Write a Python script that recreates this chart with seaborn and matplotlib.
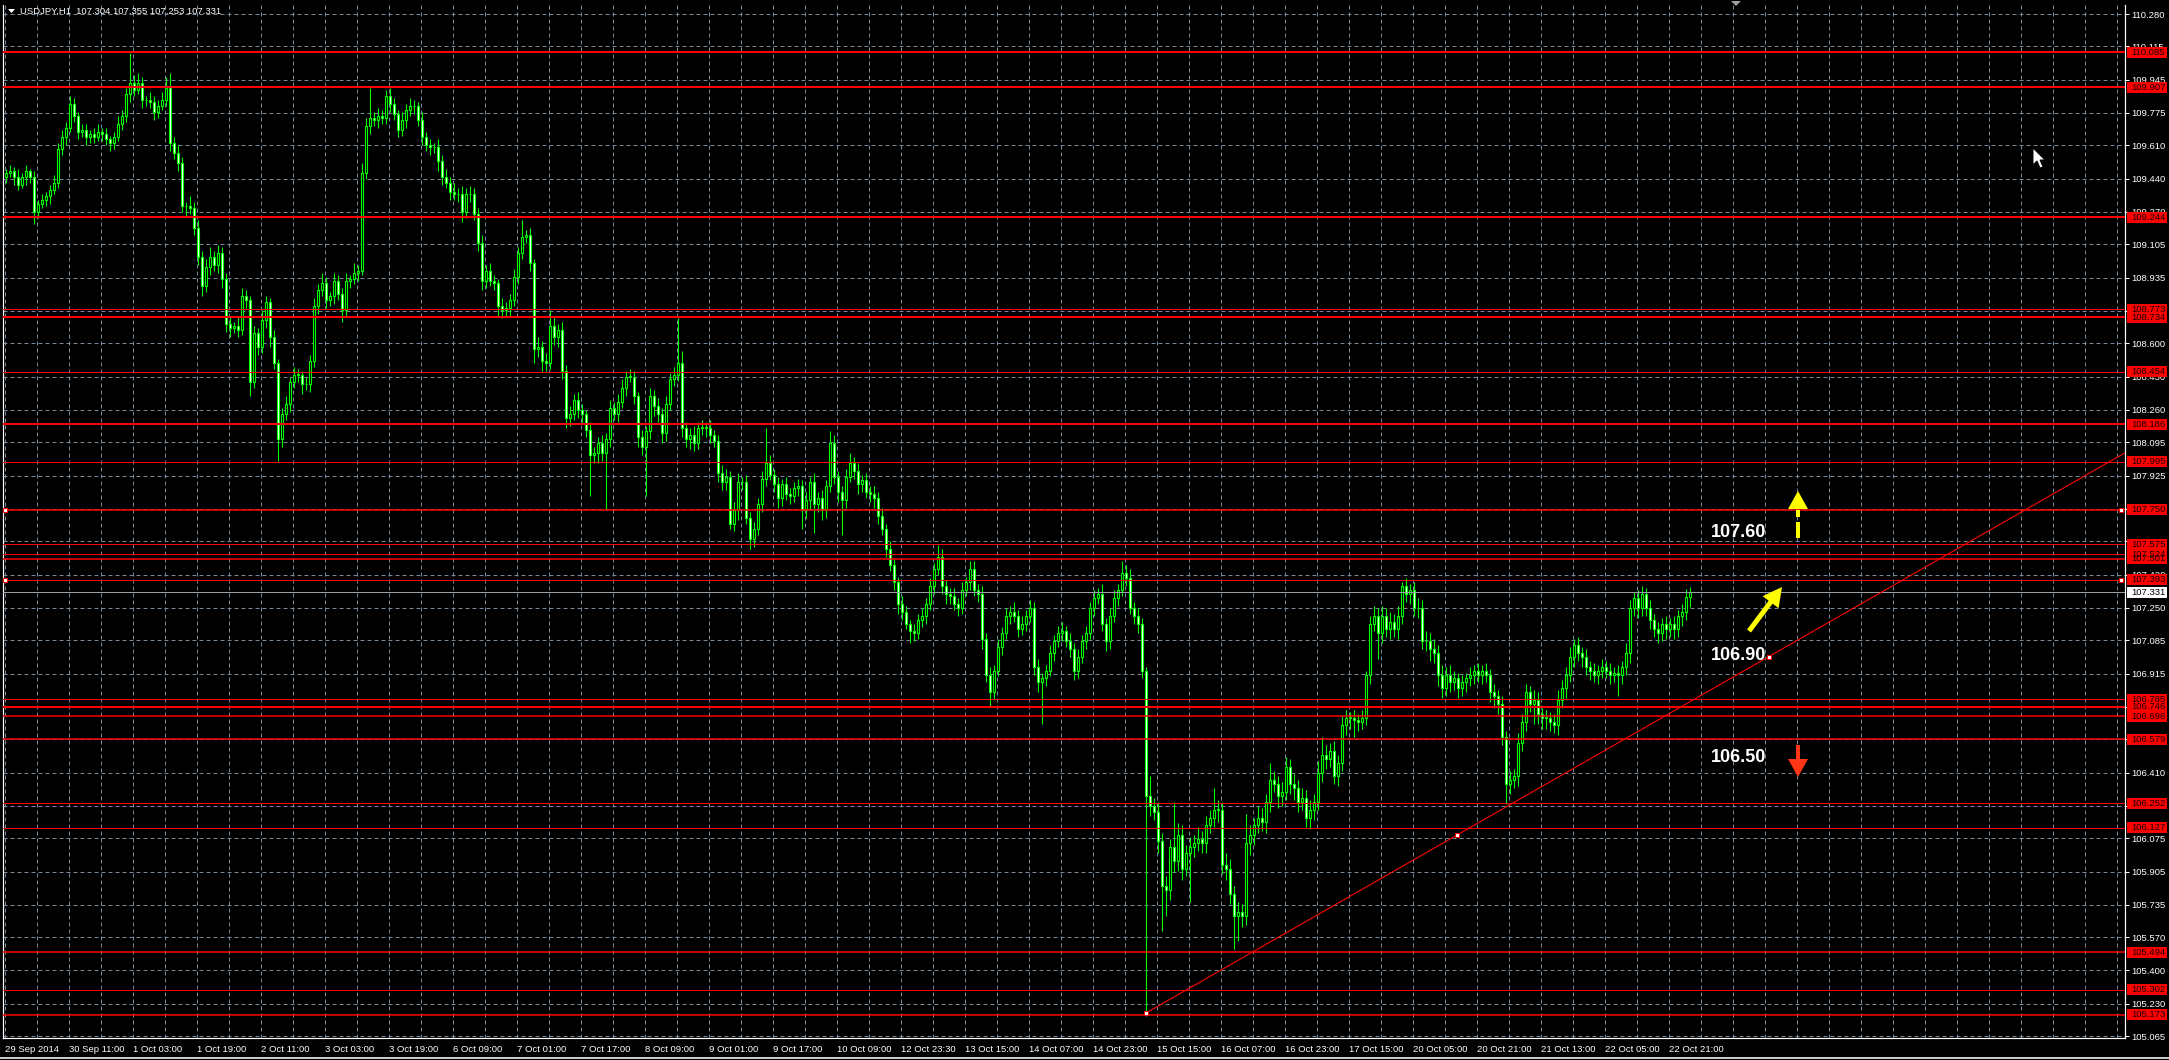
import numpy as np
import pandas as pd
import matplotlib
matplotlib.use("Agg")
import matplotlib.pyplot as plt
import matplotlib.transforms as mtransforms
from matplotlib.patches import Rectangle, Polygon
from matplotlib.lines import Line2D
import seaborn as sns

# ---------------- data ----------------
SYMBOL = "USDJPY,H1"
HEADER_OHLC = [107.304, 107.355, 107.253, 107.331]
FIRST_OPEN = 109.45

CLOSE = [
    109.47,109.48,109.45,109.41,109.45,109.48,109.45,109.27,109.31,109.33,
    109.35,109.38,109.42,109.59,109.65,109.70,109.82,109.76,109.68,109.69,
    109.65,109.67,109.65,109.68,109.67,109.64,109.62,109.65,109.72,109.76,
    109.87,109.93,109.89,109.93,109.84,109.84,109.83,109.78,109.81,109.84,
    109.90,109.62,109.57,109.52,109.30,109.30,109.29,109.19,109.04,108.89,
    108.99,109.04,109.00,109.06,108.93,108.70,108.68,108.69,108.67,108.84,
    108.82,108.40,108.65,108.58,108.72,108.81,108.63,108.50,108.11,108.24,
    108.29,108.40,108.44,108.44,108.39,108.39,108.51,108.79,108.87,108.91,
    108.82,108.84,108.92,108.85,108.77,108.92,108.93,108.96,108.97,109.47,
    109.71,109.75,109.74,109.76,109.75,109.86,109.82,109.77,109.69,109.74,
    109.79,109.81,109.81,109.74,109.65,109.61,109.60,109.60,109.53,109.45,
    109.42,109.37,109.36,109.36,109.27,109.36,109.36,109.26,109.11,108.92,
    108.97,108.92,108.91,108.79,108.77,108.78,108.82,108.94,109.06,109.14,
    109.15,109.01,108.57,108.58,108.51,108.50,108.69,108.63,108.67,108.46,
    108.22,108.24,108.31,108.26,108.24,108.16,108.03,108.04,108.09,108.04,
    108.11,108.27,108.24,108.30,108.37,108.43,108.43,108.33,108.12,108.07,
    108.15,108.33,108.28,108.24,108.14,108.29,108.42,108.44,108.50,108.17,
    108.11,108.13,108.09,108.17,108.17,108.17,108.13,108.10,107.94,107.89,
    107.92,107.68,107.75,107.89,107.89,107.71,107.60,107.65,107.78,107.91,
    107.99,107.93,107.88,107.81,107.88,107.83,107.82,107.86,107.87,107.75,
    107.80,107.89,107.78,107.81,107.75,107.87,108.09,107.92,107.84,107.80,
    107.92,107.99,107.95,107.88,107.90,107.84,107.83,107.81,107.72,107.65,
    107.55,107.47,107.38,107.27,107.23,107.17,107.13,107.12,107.19,107.21,
    107.27,107.36,107.45,107.51,107.36,107.32,107.31,107.27,107.25,107.34,
    107.38,107.45,107.34,107.32,107.09,106.91,106.82,106.93,107.05,107.12,
    107.21,107.23,107.21,107.14,107.17,107.21,107.25,106.95,106.87,106.89,
    106.93,107.02,107.08,107.12,107.13,107.08,107.04,106.93,107.00,107.08,
    107.12,107.25,107.30,107.32,107.17,107.08,107.21,107.30,107.34,107.43,
    107.40,107.25,107.21,107.17,106.93,106.29,106.24,106.21,106.06,105.83,
    105.81,106.03,105.96,106.09,105.92,106.00,106.03,106.05,106.07,106.05,
    106.14,106.18,106.22,106.22,105.94,105.92,105.79,105.68,105.70,105.68,
    106.05,106.09,106.14,106.18,106.16,106.26,106.37,106.35,106.29,106.31,
    106.44,106.35,106.33,106.26,106.28,106.18,106.22,106.26,106.41,106.50,
    106.48,106.52,106.39,106.46,106.65,106.69,106.69,106.68,106.67,106.69,
    106.91,107.17,107.21,107.12,107.21,107.14,107.18,107.14,107.21,107.36,
    107.32,107.34,107.25,107.25,107.08,107.08,107.04,107.02,106.91,106.84,
    106.91,106.87,106.89,106.84,106.87,106.89,106.91,106.93,106.91,106.93,
    106.91,106.82,106.80,106.76,106.59,106.35,106.37,106.39,106.56,106.67,
    106.82,106.76,106.78,106.71,106.69,106.69,106.67,106.65,106.78,106.84,
    106.91,107.00,107.06,107.02,107.00,106.95,106.93,106.91,106.93,106.95,
    106.93,106.91,106.92,106.91,106.95,107.02,107.25,107.30,107.25,107.32,
    107.25,107.19,107.14,107.12,107.17,107.14,107.17,107.14,107.21,107.23,
    107.304,107.331,
]

# upper / lower wick lengths in 0.01 yen
UPPER_WICK = [
    2,3,2,4,2,3,1,3,2,3, 2,3,4,3,4,3,4,3,2,3, 3,2,3,4,2,3,2,3,4,3,
    3,15,4,5,3,2,4,3,3,4, 6,8,3,4,3,2,5,3,4,3, 4,5,3,4,3,3,4,2,5,4,
    3,2,4,3,5,3,2,4,2,3, 4,3,4,3,2,4,3,4,3,5, 3,2,4,3,3,4,2,5,3,5,
    4,15,3,4,3,3,4,3,2,4, 3,4,3,2,4,3,3,2,4,3, 4,3,5,3,4,3,4,3,3,4,
    3,4,3,2,4,3,3,4,3,9, 3,4,2,5,3,4,8,4,3,4, 3,4,3,4,3,2,4,3,3,4,
    3,4,3,4,5,3,4,3,2,4, 3,4,3,4,3,4,3,4,23,6, 3,4,5,3,4,3,4,3,3,4,
    4,3,4,5,3,4,3,4,3,4, 18,4,3,4,3,4,3,3,4,3, 4,3,5,3,4,3,6,4,3,3,
    4,5,3,4,3,4,3,4,3,4, 3,4,3,3,4,3,2,4,3,4, 3,4,3,6,4,3,3,4,3,4,
    3,4,4,3,4,3,4,3,4,3, 4,3,5,3,4,3,4,3,4,3, 3,4,3,4,5,3,4,3,4,3,
    4,3,4,3,5,3,4,4,3,6, 4,5,3,4,3,2,10,4,5,4, 5,4,23,6,5,4,5,4,6,4,
    5,4,11,5,4,6,5,4,5,4, 15,5,4,6,5,4,9,5,4,5, 5,4,5,4,5,4,5,4,6,9,
    5,4,5,4,5,4,3,4,3,4, 2,4,5,4,5,4,5,4,5,2, 4,3,4,5,4,5,4,5,4,5,
    4,5,4,3,4,3,4,3,4,3, 4,3,4,3,4,3,5,4,5,4, 4,3,5,4,3,4,3,4,5,4,
    4,5,3,4,3,4,3,4,3,4, 3,4,3,4,3,5,4,3,4,4, 3,4,3,4,3,4,3,4,3,4,
    4,2.4,
]
LOWER_WICK = [
    3,2,4,3,2,4,3,6,3,2, 3,4,2,3,3,4,2,3,4,3, 4,3,3,2,4,3,4,3,2,3,
    3,4,3,2,4,3,3,4,3,2, 3,4,3,4,3,5,3,4,4,5, 3,4,3,4,5,4,5,3,4,3,
    4,7,3,4,3,4,5,3,11,4, 3,4,3,4,5,3,4,3,4,3, 4,3,4,3,6,3,4,3,4,2,
    3,4,3,4,3,3,4,3,4,3, 4,3,4,3,4,3,4,3,5,4, 3,4,3,4,5,3,4,3,4,5,
    4,3,4,5,4,3,4,3,4,3, 3,4,7,4,5,4,3,4,5,4, 5,4,3,4,5,4,21,4,5,4,
    29,4,3,4,3,4,3,4,5,4, 25,4,5,4,5,4,3,4,3,5, 4,5,4,3,4,5,4,3,5,4,
    4,3,4,5,4,3,5,4,3,4, 4,3,4,5,4,3,4,3,4,10, 4,5,15,4,5,4,3,4,5,18,
    4,3,4,5,4,3,4,5,4,3, 4,3,4,5,4,3,6,4,3,4, 4,3,4,3,4,5,4,3,4,3,
    3,4,3,4,5,4,7,4,3,4, 3,4,3,4,3,4,3,4,5,21, 4,3,4,3,4,3,4,5,4,3,
    4,3,4,3,4,5,4,3,4,3, 4,3,4,5,4,112,5,4,6,23, 13,5,6,5,6,4,25,5,4,5,
    5,4,5,6,5,6,5,17,13,6, 5,6,5,4,5,6,5,4,6,5, 4,5,6,5,4,5,6,5,4,5,
    5,4,4,5,4,5,6,9,5,4, 4,5,4,13,5,4,5,4,5,4, 4,5,4,5,4,5,6,5,6,5,
    4,5,4,5,4,5,4,5,4,5, 4,5,6,5,4,10,5,4,5,4, 5,4,10,5,6,6,5,4,5,4,
    5,4,5,4,5,4,5,4,5,4, 4,5,4,11,5,4,5,4,5,4, 4,5,4,5,4,5,4,5,4,5,
    4,5.1,
]

# horizontal support / resistance levels (draw order matters for the labels)
LEVELS = [110.085, 109.907, 109.244, 108.734, 108.773, 108.454, 108.186, 107.995,
          107.750, 107.524, 107.575, 107.501, 107.393, 106.785, 106.746, 106.696,
          106.579, 106.252, 106.127, 105.494, 105.302, 105.173]
LEVEL_PX = [2, 2, 2, 2, 1, 1, 2, 1, 1.5, 1, 1, 1.5, 1, 1, 2, 1.5, 1.5, 1, 1, 1.5, 1, 1.5]
SELECTED_LEVELS = [107.750, 107.393]

YTICKS = [110.280, 110.115, 109.945, 109.775, 109.610, 109.440, 109.270, 109.105,
          108.935, 108.765, 108.600, 108.430, 108.260, 108.095, 107.925, 107.755,
          107.590, 107.420, 107.250, 107.085, 106.915, 106.745, 106.580, 106.410,
          106.240, 106.075, 105.905, 105.735, 105.570, 105.400, 105.230, 105.065]

XLABELS = ["29 Sep 2014", "30 Sep 11:00", "1 Oct 03:00", "1 Oct 19:00", "2 Oct 11:00",
           "3 Oct 03:00", "3 Oct 19:00", "6 Oct 09:00", "7 Oct 01:00", "7 Oct 17:00",
           "8 Oct 09:00", "9 Oct 01:00", "9 Oct 17:00", "10 Oct 09:00", "12 Oct 23:30",
           "13 Oct 15:00", "14 Oct 07:00", "14 Oct 23:00", "15 Oct 15:00", "16 Oct 07:00",
           "16 Oct 23:00", "17 Oct 15:00", "20 Oct 05:00", "20 Oct 21:00", "21 Oct 13:00",
           "22 Oct 05:00", "22 Oct 21:00"]

# trend line anchors (bar index, price)
TREND_T = [285, 362.75]
TREND_P = [105.183, 106.091]
TEXT_ANCHOR = (440.75, 107.0)

NOTES = ["107.60", "106.90", "106.50"]

for name, arr in [("UPPER_WICK", UPPER_WICK), ("LOWER_WICK", LOWER_WICK)]:
    if len(arr) != len(CLOSE):
        raise SystemExit(f"{name} length {len(arr)} != {len(CLOSE)}")

# ---------------- figure geometry ----------------
W, H = 2169, 1060
AX_L, AX_R, AX_T, AX_B = 3, 2125, 5, 1038
X_LO, X_HI = -0.75, 529.75
PX_PER_YEN = 196.0
Y_HI = 110.28 + (14 - AX_T) / PX_PER_YEN
Y_LO = 110.28 - (AX_B - 14) / PX_PER_YEN

def px2data(x, y):
    return ((x - 6) / 4.0, 110.28 - (y - 14) / PX_PER_YEN)

LIME = "#00ff00"
GRID = "#778899"
RED = "#ff0000"
PT = 0.72  # one pixel in points
FS = 6.8

sns.set_theme(style="dark", rc={"axes.facecolor": "black", "figure.facecolor": "black",
                                "savefig.facecolor": "black", "axes.edgecolor": "white",
                                "text.color": "white", "xtick.color": "white",
                                "ytick.color": "white"})
plt.rcParams["font.family"] = ["Liberation Sans", "DejaVu Sans"]

fig = plt.figure(figsize=(W / 100, H / 100), dpi=100)
ax = fig.add_axes([AX_L / W, (H - AX_B) / H, (AX_R - AX_L) / W, (AX_B - AX_T) / H])
ax.set_facecolor("black")
ax.set_xlim(X_LO, X_HI)
ax.set_ylim(Y_LO, Y_HI)

# ---------------- candles ----------------
cls = np.array(CLOSE, dtype=float)
opn = np.array([FIRST_OPEN] + CLOSE[:-1], dtype=float)
hi = np.maximum(opn, cls) + np.array(UPPER_WICK, dtype=float) / 100
lo = np.minimum(opn, cls) - np.array(LOWER_WICK, dtype=float) / 100
df = pd.DataFrame({"t": np.arange(len(cls)), "open": opn, "close": cls,
                   "high": hi, "low": lo})
df["bull"] = df["close"] >= df["open"]

ax.vlines(df["t"], df["low"], df["high"], color=LIME, lw=1.1 * PT, zorder=3)
body_h = np.maximum((df["close"] - df["open"]).abs(), 0.0015)
ax.bar(df["t"], body_h, bottom=np.minimum(df["open"], df["close"]), width=0.6,
       color=np.where(df["bull"], "black", "white"), edgecolor=LIME, linewidth=1.1 * PT,
       zorder=4)

# ---------------- grid & axes ----------------
xt = [16 * k - 0.35 for k in range(len(XLABELS))]
xminor = [8 * m - 0.35 for m in range(67) if (8 * m - 0.35) < X_HI]
ax.set_xticks(xt)
ax.set_xticklabels(XLABELS, ha="left")
ax.set_xticks(xminor, minor=True)
ax.set_yticks(YTICKS)
ax.set_yticklabels([f"{v:.3f}" for v in YTICKS])
ax.yaxis.tick_right()
ax.grid(True, axis="both", which="both", color=GRID, lw=PT, ls=(0, (4, 3)), zorder=1)
ax.set_axisbelow(True)
ax.tick_params(axis="x", which="major", direction="out", length=4 * PT, width=PT,
               color="white", labelcolor="white", labelsize=FS, pad=2)
ax.tick_params(axis="x", which="minor", length=0)
ax.tick_params(axis="y", which="major", direction="out", length=4 * PT, width=PT,
               color="white", labelcolor="white", labelsize=FS, pad=1.5,
               left=False, right=True)
for side in ["left", "bottom", "right"]:
    ax.spines[side].set_color("white")
    ax.spines[side].set_linewidth(1.2 * PT)
ax.spines["top"].set_visible(False)

# ---------------- horizontal levels ----------------
for lvl, w in zip(LEVELS, LEVEL_PX):
    ax.axhline(lvl, color=RED, lw=w * PT, zorder=5)
ax.axhline(HEADER_OHLC[3], color="#9aa0a8", lw=PT, zorder=5)

# trend line (ray to the right edge)
slope = (TREND_P[1] - TREND_P[0]) / (TREND_T[1] - TREND_T[0])
sns.lineplot(x=[TREND_T[0], X_HI], y=[TREND_P[0], TREND_P[0] + slope * (X_HI - TREND_T[0])],
             ax=ax, color=RED, lw=1.1 * PT, zorder=5, sort=False, estimator=None)

# selection handles
hx = [TREND_T[0], TREND_T[1], TEXT_ANCHOR[0]]
hy = [TREND_P[0], TREND_P[1], TEXT_ANCHOR[1]]
for lvl in SELECTED_LEVELS:
    hx += [px2data(5, 0)[0], px2data(2121, 0)[0]]
    hy += [lvl, lvl]
ax.plot(hx, hy, ls="none", marker="s", ms=4 * PT, mfc="white", mec=RED, mew=PT,
        zorder=9, clip_on=False)

# ---------------- right-hand price labels ----------------
trans = mtransforms.blended_transform_factory(mtransforms.IdentityTransform(), ax.transData)
box_h = 11 / PX_PER_YEN
for lvl in LEVELS:
    ax.add_patch(Rectangle((2127, lvl - box_h / 2), 40, box_h, transform=trans,
                           facecolor=RED, edgecolor="none", zorder=10, clip_on=False))
    ax.text(2131, lvl, f"{lvl:.3f}", transform=trans, ha="left", va="center",
            color="#1a0000", fontsize=FS, zorder=11, clip_on=False)
ax.add_patch(Rectangle((2127, HEADER_OHLC[3] - box_h / 2), 40, box_h, transform=trans,
                       facecolor="white", edgecolor="none", zorder=10, clip_on=False))
ax.text(2131, HEADER_OHLC[3], f"{HEADER_OHLC[3]:.3f}", transform=trans, ha="left",
        va="center", color="black", fontsize=FS, zorder=11, clip_on=False)

# ---------------- annotations ----------------
for txt, (px, py) in zip(NOTES, [(1711, 537), (1711, 660), (1711, 762)]):
    x, y = px2data(px, py)
    ax.text(x, y, txt, ha="left", va="baseline", color="white", fontsize=13,
            fontweight="bold", zorder=12)

def poly(points, color):
    ax.add_patch(Polygon([px2data(px, py) for px, py in points], closed=True,
                         facecolor=color, edgecolor="none", zorder=12, clip_on=False))

YEL = "#ffff00"
# yellow up arrow with dashed shaft
poly([(1788, 509), (1798, 491), (1808, 509)], YEL)
poly([(1796, 510), (1800, 510), (1800, 517), (1796, 517)], YEL)
poly([(1796, 522), (1800, 522), (1800, 538), (1796, 538)], YEL)
# yellow diagonal arrow
tail = np.array([1749.0, 631.0]); tip = np.array([1782.0, 587.0])
d = (tip - tail) / np.linalg.norm(tip - tail); nrm = np.array([-d[1], d[0]])
base = tip - d * 19
pts = [tail + nrm * 2.5, base + nrm * 2.5, base + nrm * 10, tip, base - nrm * 10,
       base - nrm * 2.5, tail - nrm * 2.5]
poly([tuple(p) for p in pts], YEL)
# red down arrow
ORG = "#ff3515"
poly([(1796, 745), (1800, 745), (1800, 759), (1796, 759)], ORG)
poly([(1788, 759), (1808, 759), (1798, 777)], ORG)

# ---------------- header, misc ----------------
ident = mtransforms.IdentityTransform()
def fpoly(points, fc, ec="none", lw=0):
    fig.add_artist(Polygon([(x, H - y) for x, y in points], closed=True, facecolor=fc,
                           edgecolor=ec, lw=lw, transform=ident))

fpoly([(8, 9), (15, 9), (11.5, 13)], "white")
fig.text(20.5 / W, 1 - 11 / H, SYMBOL + "  " + " ".join(f"{v:.3f}" for v in HEADER_OHLC),
         ha="left", va="center", color="white", fontsize=FS)
fpoly([(1731, 1), (1741, 1), (1736, 6)], "#a0a0a0")
cx, cy = 2033, 148
fpoly([(cx, cy), (cx, cy + 17), (cx + 4, cy + 13), (cx + 7, cy + 20), (cx + 10, cy + 19),
       (cx + 7, cy + 12), (cx + 12, cy + 12)], "white", "black", 0.7)
fig.add_artist(Line2D([0, W], [H - 1058, H - 1058], transform=ident, color="#d0d0d0", lw=1.4))

fig.savefig("out.png", dpi=100, facecolor="black")
